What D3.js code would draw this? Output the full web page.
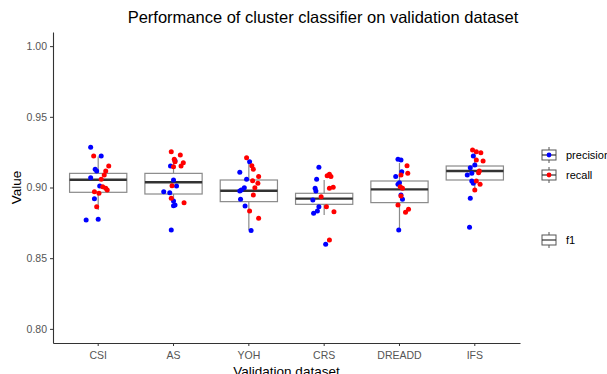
<!DOCTYPE html>
<html>
<head>
<meta charset="utf-8">
<script src="https://cdn.jsdelivr.net/npm/d3@7"></script>
<style>
  body { margin: 0; background: #fff; }
  text { font-family: "Liberation Sans", Arial, sans-serif; }
</style>
</head>
<body>
<div id="chart"></div>
<script>
(function() {

// Categories and tick labels
const datasets = ["CSI", "AS", "YOH", "CRS", "DREADD", "IFS"];
const yTicks = [0.80, 0.85, 0.90, 0.95, 1.00];

// Box stats (f1) per dataset
const whiskerLow  = [0.884, 0.8876, 0.870, 0.8806, 0.870, 0.898];
const q1          = [0.8966, 0.8954, 0.8900, 0.8881, 0.8893, 0.9053];
const medians     = [0.9055, 0.9037, 0.8977, 0.8921, 0.8987, 0.9117];
const q3          = [0.9100, 0.9100, 0.9053, 0.8959, 0.9046, 0.9152];
const whiskerHigh = [0.922, 0.921, 0.9194, 0.9053, 0.9173, 0.925];

// Precision points: [dataset index, value, jitter (fraction of band step)]
const precision = [
  [0, 0.9284, -0.10], [0, 0.9223, 0.04], [0, 0.9129, -0.04], [0, 0.9117, -0.02], [0, 0.9069, -0.10],
  [0, 0.9011, 0.02], [0, 0.8921, -0.05], [0, 0.8770, -0.16], [0, 0.8775, 0.00],
  [1, 0.9152, -0.04], [1, 0.9189, 0.02], [1, 0.9053, 0.00], [1, 0.9011, 0.04], [1, 0.8970, -0.13],
  [1, 0.8963, -0.05], [1, 0.8905, 0.00], [1, 0.8876, 0.02], [1, 0.8871, 0.00], [1, 0.8700, -0.03],
  [2, 0.9182, 0.01], [2, 0.9107, -0.12], [2, 0.9058, -0.03], [2, 0.8999, -0.06], [2, 0.8982, -0.10],
  [2, 0.8975, -0.12], [2, 0.8917, -0.11], [2, 0.8869, -0.05], [2, 0.8695, 0.03],
  [3, 0.9143, -0.07], [3, 0.9058, -0.10], [3, 0.8994, -0.12], [3, 0.8975, -0.11], [3, 0.8912, -0.15],
  [3, 0.8864, -0.07], [3, 0.8834, -0.09], [3, 0.8818, -0.14], [3, 0.8599, 0.02],
  [4, 0.9199, -0.02], [4, 0.9194, 0.02], [4, 0.9112, 0.03], [4, 0.9077, -0.05], [4, 0.9034, 0.00],
  [4, 0.9023, -0.02], [4, 0.8947, 0.02], [4, 0.8917, 0.04], [4, 0.8700, -0.01],
  [5, 0.9223, -0.02], [5, 0.9159, 0.00], [5, 0.9140, -0.06], [5, 0.9100, -0.04], [5, 0.9088, -0.10],
  [5, 0.9046, -0.04], [5, 0.9030, -0.02], [5, 0.8924, -0.06], [5, 0.8719, -0.07]
];

// Recall points: [dataset index, value, jitter]
const recall = [
  [0, 0.9223, -0.06], [0, 0.9152, 0.14], [0, 0.9117, 0.10], [0, 0.9088, 0.08], [0, 0.9058, 0.04],
  [0, 0.9006, 0.06], [0, 0.8994, 0.10], [0, 0.8982, 0.12], [0, 0.8970, -0.05], [0, 0.8959, 0.01],
  [0, 0.8864, -0.02],
  [1, 0.9253, -0.03], [1, 0.9230, 0.09], [1, 0.9199, 0.01], [1, 0.9182, 0.02], [1, 0.9175, 0.13],
  [1, 0.9152, 0.10], [1, 0.9147, 0.00], [1, 0.9013, -0.02], [1, 0.8924, -0.03], [1, 0.8893, 0.14],
  [2, 0.9211, -0.03], [2, 0.9154, 0.04], [2, 0.9129, 0.06], [2, 0.9077, 0.13], [2, 0.9048, 0.05],
  [2, 0.9030, 0.12], [2, 0.8999, 0.08], [2, 0.8947, 0.06], [2, 0.8834, 0.01], [2, 0.8782, 0.13],
  [3, 0.9084, 0.04], [3, 0.9077, 0.09], [3, 0.9093, 0.07], [3, 0.9001, 0.12], [3, 0.8994, 0.07],
  [3, 0.8935, -0.04], [3, 0.8864, 0.03], [3, 0.8829, 0.13], [3, 0.8629, 0.07],
  [4, 0.9154, 0.10], [4, 0.9100, 0.11], [4, 0.9088, 0.02], [4, 0.9006, 0.01], [4, 0.8994, 0.04],
  [4, 0.8940, 0.02], [4, 0.8876, -0.02], [4, 0.8846, 0.12], [4, 0.8825, 0.08],
  [5, 0.9265, -0.03], [5, 0.9253, 0.02], [5, 0.9246, 0.08], [5, 0.9194, 0.02], [5, 0.9187, 0.11],
  [5, 0.9117, 0.06], [5, 0.9105, 0.05], [5, 0.9046, 0.02], [5, 0.9023, 0.07], [5, 0.8982, 0.00]
];

const seriesColors = { precision: "#0000ff", recall: "#ff0000" };

// Dimensions
const W = 607, H = 374;
const panel = { left: 53, right: 520, top: 32, bottom: 343 };

const svg = d3.select("#chart")
  .append("svg")
  .attr("width", W)
  .attr("height", H);

// Scales
const x = d3.scaleBand()
  .domain(datasets)
  .range([panel.left, panel.right])
  .paddingOuter(0.1)
  .paddingInner(0);
const y = d3.scaleLinear()
  .domain([0.79, 1.01])
  .range([panel.bottom, panel.top]);

const step = x.step();
const cx = i => x(datasets[i]) + x.bandwidth() / 2;
const boxW = step * 0.76;

// Axes
const yAxis = svg.append("g")
  .attr("transform", `translate(${panel.left},0)`)
  .call(d3.axisLeft(y).tickValues(yTicks).tickFormat(d3.format(".2f")).tickSize(3).tickSizeOuter(0));
const xAxis = svg.append("g")
  .attr("transform", `translate(0,${panel.bottom})`)
  .call(d3.axisBottom(x).tickSize(3).tickSizeOuter(0));

[xAxis, yAxis].forEach(a => {
  a.select(".domain").attr("stroke", "#333").attr("stroke-width", 1.1);
  a.selectAll(".tick line").attr("stroke", "#333");
  a.selectAll(".tick text").attr("fill", "#555").style("font-size", "10.5px");
});
xAxis.selectAll(".tick text").attr("dy", "0.95em");

// Boxplots
const boxes = svg.append("g");
datasets.forEach((d, i) => {
  const g = boxes.append("g");
  g.append("line")
    .attr("x1", cx(i)).attr("x2", cx(i))
    .attr("y1", y(whiskerHigh[i])).attr("y2", y(q3[i]))
    .attr("stroke", "#8a8a8a").attr("stroke-width", 1.2);
  g.append("line")
    .attr("x1", cx(i)).attr("x2", cx(i))
    .attr("y1", y(q1[i])).attr("y2", y(whiskerLow[i]))
    .attr("stroke", "#8a8a8a").attr("stroke-width", 1.2);
  g.append("rect")
    .attr("x", cx(i) - boxW / 2).attr("width", boxW)
    .attr("y", y(q3[i])).attr("height", y(q1[i]) - y(q3[i]))
    .attr("fill", "none").attr("stroke", "#8a8a8a").attr("stroke-width", 1.2);
  g.append("line")
    .attr("x1", cx(i) - boxW / 2).attr("x2", cx(i) + boxW / 2)
    .attr("y1", y(medians[i])).attr("y2", y(medians[i]))
    .attr("stroke", "#333").attr("stroke-width", 2.4);
});

// Jittered points
function drawPoints(data, color) {
  svg.append("g").selectAll("circle")
    .data(data)
    .join("circle")
    .attr("cx", d => cx(d[0]) + d[2] * step)
    .attr("cy", d => y(d[1]))
    .attr("r", 2.5)
    .attr("fill", color);
}
drawPoints(precision, seriesColors.precision);
drawPoints(recall, seriesColors.recall);

// Title
svg.append("text")
  .attr("x", 323)
  .attr("y", 23)
  .attr("text-anchor", "middle")
  .style("font-size", "16.5px")
  .attr("fill", "#000")
  .text("Performance of cluster classifier on validation dataset");

// Axis titles
svg.append("text")
  .attr("transform", `translate(21,${(panel.top + panel.bottom) / 2}) rotate(-90)`)
  .attr("text-anchor", "middle")
  .style("font-size", "13.5px")
  .text("Value");
svg.append("text")
  .attr("x", (panel.left + panel.right) / 2)
  .attr("y", 376)
  .attr("text-anchor", "middle")
  .style("font-size", "13.5px")
  .text("Validation dataset");

// Legend
const legendItems = [
  { label: "precision", color: seriesColors.precision, yPos: 155 },
  { label: "recall", color: seriesColors.recall, yPos: 175 },
  { label: "f1", color: null, yPos: 240 }
];
const legend = svg.append("g");
legendItems.forEach(item => {
  const g = legend.append("g").attr("transform", `translate(549,${item.yPos})`);
  g.append("line").attr("x1", 0).attr("x2", 0).attr("y1", -8).attr("y2", 8)
    .attr("stroke", "#555").attr("stroke-width", 1);
  g.append("rect").attr("x", -7).attr("y", -5).attr("width", 14).attr("height", 10)
    .attr("fill", "#fff").attr("stroke", "#555").attr("stroke-width", 1);
  g.append("line").attr("x1", -7).attr("x2", 7).attr("y1", 0).attr("y2", 0)
    .attr("stroke", "#333").attr("stroke-width", 1.2);
  if (item.color) {
    g.append("circle").attr("r", 2.4).attr("fill", item.color);
  }
  g.append("text")
    .attr("x", 17).attr("y", 0).attr("dy", "0.35em")
    .style("font-size", "11px")
    .attr("fill", "#000")
    .text(item.label);
});

})();
</script>
</body>
</html>
